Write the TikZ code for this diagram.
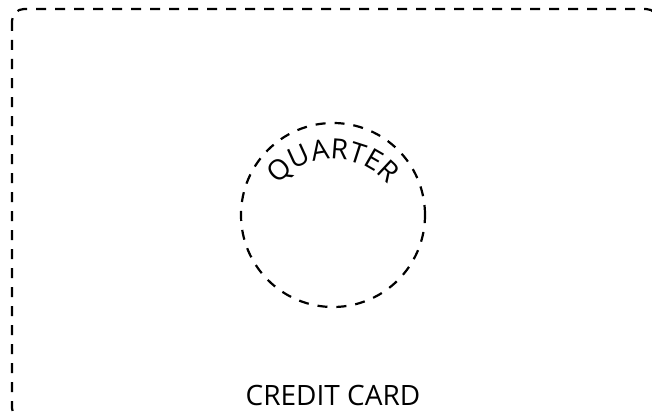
\documentclass[tikz,border=0pt]{standalone}
\usepackage{fontspec}
\setmainfont{Open Sans}
\usetikzlibrary{decorations.text}

\newcommand{\cardfont}{\fontsize{28}{32}\selectfont}

\begin{document}
\begin{tikzpicture}[x=1pt, y=1pt,
    % Dashed outline style
    outline/.style={line width=2.2pt, dash pattern=on 10pt off 9pt},
    labeltext/.style={font=\cardfont, inner sep=0pt}
]

% Page size
\useasboundingbox (0,0) rectangle (652,416);
\clip (0,0) rectangle (652,416);

% Quarter centre and radius
\def\cx{333}
\def\cy{201}
\def\rad{92}

% Credit card outline (runs off at the right and bottom)
\draw[outline, rounded corners=12pt] (12,407) rectangle (658,-4);

% Quarter
\draw[outline] (\cx,\cy) circle (\rad);

% Curved label inside the quarter
\path[decorate, decoration={text along path, text align=center,
    text={|\cardfont|QUARTER}}]
    (\cx-65.3,\cy-16+30.4) arc[start angle=155, end angle=25, radius=72];

% Card label
\node[labeltext] (cardlabel) at (\cx,21) {CREDIT CARD};

\end{tikzpicture}
\end{document}
